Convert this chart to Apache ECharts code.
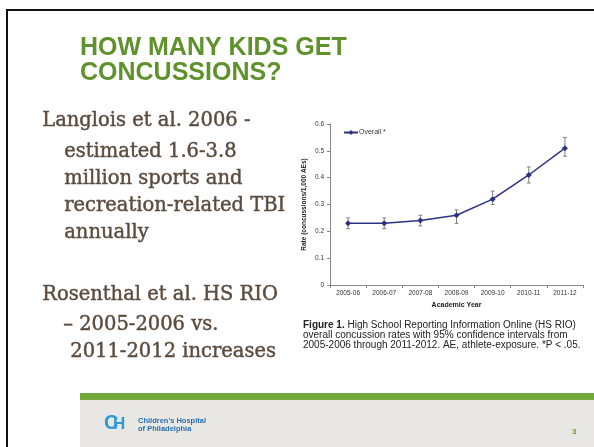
<!DOCTYPE html>
<html><head><meta charset="utf-8">
<script src="https://cdn.jsdelivr.net/npm/echarts@6/dist/echarts.min.js"></script>
<style>html,body{margin:0;padding:0;background:#fff}#c{width:594px;height:447px}</style>
</head><body><div id="c"></div>
<script>
const categories = ['2005-06','2006-07','2007-08','2008-09','2009-10','2010-11','2011-12'];
const rates = [0.23, 0.23, 0.24, 0.26, 0.32, 0.41, 0.51];
const ciLow = [0.21, 0.21, 0.22, 0.23, 0.30, 0.38, 0.48];
const ciHigh = [0.25, 0.25, 0.26, 0.28, 0.35, 0.44, 0.55];
const yTicks = [0, 0.1, 0.2, 0.3, 0.4, 0.5, 0.6];
const seriesName = 'Overall *';

const errData = categories.map((c, i) => [i, ciLow[i], ciHigh[i]]);
const chart = echarts.init(document.getElementById('c'), null, {renderer: 'canvas'});
const serif = '"DejaVu Serif", serif';
const bodyColor = '#5b4c3f';
const bodyFont = '19.5px ' + serif;
const bodyStyle = (t, extra) => Object.assign({text: t, fill: bodyColor, font: bodyFont, stroke: bodyColor, lineWidth: 0.45}, extra || {});

chart.setOption({
  animation: false,
  backgroundColor: '#fff',
  grid: {left: 330, top: 124, width: 253, height: 161, containLabel: false},
  legend: {
    left: 338, top: 124, itemWidth: 14, itemHeight: 6, itemGap: 2,
    data: [seriesName],
    textStyle: {fontSize: 7, color: '#333', fontFamily: 'Liberation Sans', padding: [0, 0, 0, -4]}
  },
  xAxis: {
    type: 'category', data: categories, boundaryGap: true,
    name: 'Academic Year', nameLocation: 'middle', nameGap: 17,
    nameTextStyle: {fontSize: 7, fontWeight: 'bold', color: '#222', fontFamily: 'Liberation Sans'},
    axisLine: {lineStyle: {color: '#888', width: 1}},
    axisTick: {show: true, length: 3, lineStyle: {color: '#888'}},
    axisLabel: {fontSize: 6.5, color: '#333', margin: 5, fontFamily: 'Liberation Sans'}
  },
  yAxis: {
    type: 'value', min: yTicks[0], max: yTicks[yTicks.length-1], interval: 0.1,
    name: 'Rate (concussions/1,000 AEs)', nameLocation: 'middle', nameGap: 22, nameRotate: 90,
    nameTextStyle: {fontSize: 6.5, fontWeight: 'bold', color: '#222', fontFamily: 'Liberation Sans'},
    axisLine: {show: true, lineStyle: {color: '#888', width: 1}},
    axisTick: {show: true, length: 3, lineStyle: {color: '#888'}},
    splitLine: {show: false},
    axisLabel: {fontSize: 6.5, color: '#333', margin: 6, fontFamily: 'Liberation Sans'}
  },
  series: [
    {
      name: seriesName, type: 'line', data: rates,
      symbol: 'diamond', symbolSize: 6,
      lineStyle: {color: '#2d3180', width: 1.5},
      itemStyle: {color: '#2d3180'}, z: 3
    },
    {
      type: 'custom', name: 'ci', data: errData, z: 2,
      renderItem: function (params, api) {
        const x = api.value(0);
        const lo = api.coord([x, api.value(1)]);
        const hi = api.coord([x, api.value(2)]);
        const w = 2;
        const st = {stroke: '#666', lineWidth: 0.8};
        return {type: 'group', children: [
          {type: 'line', shape: {x1: lo[0], y1: lo[1], x2: hi[0], y2: hi[1]}, style: st},
          {type: 'line', shape: {x1: lo[0]-w, y1: lo[1], x2: lo[0]+w, y2: lo[1]}, style: st},
          {type: 'line', shape: {x1: hi[0]-w, y1: hi[1], x2: hi[0]+w, y2: hi[1]}, style: st}
        ]};
      }
    }
  ],
  graphic: [
    {type: 'rect', shape: {x: 6, y: 9, width: 600, height: 2}, style: {fill: '#111'}},
    {type: 'rect', shape: {x: 6, y: 9, width: 2, height: 450}, style: {fill: '#111'}},
    {type: 'text', left: 80, top: 36, style: {text: 'HOW MANY KIDS GET\nCONCUSSIONS?', fill: '#5f922c', font: 'bold 25px "Liberation Sans", Arial', lineHeight: 25}},
    {type: 'text', left: 42, top: 111, style: bodyStyle('Langlois et al. 2006 -')},
    {type: 'text', left: 64, top: 138, style: bodyStyle('estimated 1.6-3.8\nmillion sports and\nrecreation-related TBI\nannually', {lineHeight: 27})},
    {type: 'rect', shape: {x: 291, y: 190, width: 14, height: 30}, style: {fill: '#fff'}},
    {type: 'text', left: 42, top: 285, style: bodyStyle('Rosenthal et al. HS RIO')},
    {type: 'text', left: 63, top: 315, style: bodyStyle('– 2005-2006 vs.')},
    {type: 'text', left: 70, top: 342, style: bodyStyle('2011-2012 increases')},
    {type: 'text', left: 303, top: 320, style: {
      text: '{b|Figure 1.} High School Reporting Information Online (HS RIO)\noverall concussion rates with 95% confidence intervals from\n2005-2006 through 2011-2012. AE, athlete-exposure. *P < .05.',
      fill: '#222', font: '10px "Liberation Sans", Arial', lineHeight: 10,
      rich: {b: {fontWeight: 'bold', fontSize: 10, fontFamily: 'Liberation Sans', fill: '#222'}}
    }},
    {type: 'rect', shape: {x: 80, y: 393, width: 520, height: 7}, style: {fill: '#73a83a'}},
    {type: 'rect', shape: {x: 80, y: 400, width: 520, height: 50}, style: {fill: '#e9e7e3'}},
    {type: 'text', left: 104, top: 413, style: {text: 'C', fill: '#2e9bd6', font: 'bold 20px "Liberation Sans"'}},
    {type: 'text', left: 113, top: 416, style: {text: 'H', fill: '#2e9bd6', font: 'bold 17px "Liberation Sans"'}},
    {type: 'text', left: 138, top: 417, style: {text: "Children's Hospital\nof Philadelphia", fill: '#2a6fae', font: 'bold 7.5px "Liberation Sans"', lineHeight: 8}},
    {type: 'text', left: 572, top: 428, style: {text: '3', fill: '#6d9e3a', font: 'bold 8px "Liberation Sans"'}}
  ]
});
</script></body></html>
